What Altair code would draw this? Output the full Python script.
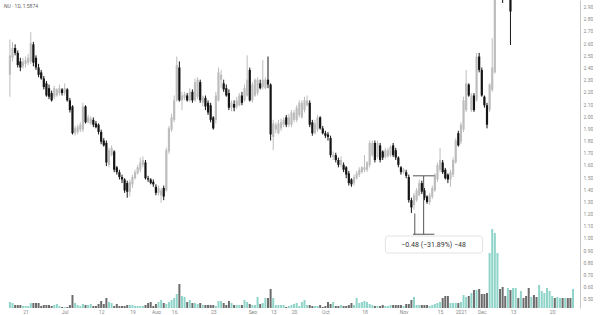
import altair as alt
import pandas as pd

# ---------------- data (daily candles) ----------------
opens = [
    2.34, 2.48, 2.56, 2.52, 2.45, 2.41, 2.43, 2.44, 2.45, 2.59,
    2.48, 2.40, 2.36, 2.31, 2.27, 2.23, 2.19, 2.16, 2.17, 2.19,
    2.22, 2.19, 2.22, 2.13, 2.08, 1.86, 1.87, 1.89, 1.89, 2.08,
    1.95, 1.94, 1.97, 1.94, 1.93, 1.87, 1.80, 1.78, 1.60, 1.68,
    1.71, 1.58, 1.54, 1.50, 1.48, 1.45, 1.38, 1.44, 1.49, 1.53,
    1.56, 1.60, 1.62, 1.49, 1.48, 1.46, 1.42, 1.37, 1.35, 1.41,
    1.39, 1.71, 1.89, 1.97, 2.13, 2.40, 2.13, 2.15, 2.17, 2.13,
    2.20, 2.13, 2.16, 2.28, 2.11, 2.15, 2.11, 2.09, 1.99,
    1.97, 2.13, 2.30, 2.27, 2.23, 2.19, 2.07, 2.10, 2.08, 2.09,
    2.17, 2.13, 2.17, 2.38, 2.13, 2.17, 2.19, 2.27, 2.24, 2.23,
    2.30, 2.26, 1.83, 1.89, 1.86, 1.90, 1.93, 1.99, 1.93, 1.93,
    1.97, 1.97, 2.01, 1.99, 2.05, 2.09, 2.11, 1.95, 1.86, 1.89,
    1.99, 1.90, 1.86, 1.85, 1.82, 1.665, 1.68, 1.64, 1.60, 1.60,
    1.58, 1.53, 1.48, 1.45, 1.49, 1.52, 1.54, 1.56, 1.56, 1.60,
    1.68, 1.78, 1.665, 1.76, 1.71, 1.665, 1.67, 1.68, 1.76, 1.72,
    1.66, 1.58, 1.54, 1.54, 1.50, 1.31, 1.27, 1.31, 1.35, 1.45,
    1.39, 1.34, 1.295, 1.34, 1.39, 1.48, 1.56, 1.62, 1.56, 1.52,
    1.48, 1.52, 1.62, 1.86, 1.79, 1.89, 2.05, 2.26, 2.05, 2.17,
    2.13, 2.49, 2.38, 2.16, 2.09, 2.05, 2.215, 2.36,
    3.20, 3.61, 3.40, 3.25, 3.15, 3.30, 3.05, 3.30, 3.45, 3.38,
    3.50, 3.42, 3.33, 3.18, 3.28, 3.20, 3.12, 3.30, 3.42, 3.50,
    3.66, 3.76, 3.84, 3.75, 3.82, 3.90, 3.83, 3.92, 3.85, 3.78,
]
closes = [
    2.50, 2.56, 2.52, 2.42, 2.40, 2.45, 2.46, 2.48, 2.60, 2.44,
    2.40, 2.34, 2.31, 2.24, 2.17, 2.16, 2.13, 2.23, 2.22, 2.23,
    2.19, 2.23, 2.13, 2.05, 1.86, 1.90, 1.91, 1.93, 2.08, 1.95,
    1.99, 1.98, 1.93, 1.91, 1.87, 1.79, 1.76, 1.62, 1.72, 1.74,
    1.56, 1.54, 1.50, 1.48, 1.39, 1.38, 1.46, 1.50, 1.54, 1.58,
    1.62, 1.64, 1.49, 1.48, 1.45, 1.44, 1.37, 1.41, 1.39, 1.34,
    1.72, 1.90, 1.99, 2.13, 2.42, 2.13, 2.17, 2.18, 2.13, 2.20,
    2.13, 2.28, 2.30, 2.13, 2.16, 2.08, 2.03, 1.97, 1.90,
    2.17, 2.36, 2.34, 2.22, 2.17, 2.07, 2.11, 2.07, 2.13, 2.17,
    2.11, 2.23, 2.30, 2.13, 2.26, 2.30, 2.30, 2.23, 2.30, 2.30,
    2.26, 1.85, 1.94, 1.93, 1.94, 1.95, 1.97, 1.93, 1.99, 2.03,
    2.03, 2.07, 2.11, 2.11, 2.13, 2.13, 1.93, 1.86, 1.94, 1.99,
    1.90, 1.86, 1.84, 1.83, 1.68, 1.68, 1.64, 1.60, 1.64, 1.56,
    1.52, 1.45, 1.44, 1.50, 1.53, 1.56, 1.58, 1.58, 1.62, 1.78,
    1.78, 1.64, 1.78, 1.64, 1.66, 1.72, 1.72, 1.75, 1.68, 1.66,
    1.60, 1.54, 1.56, 1.51, 1.31, 1.25, 1.35, 1.39, 1.45, 1.38,
    1.33, 1.295, 1.35, 1.41, 1.52, 1.60, 1.64, 1.54, 1.49, 1.48,
    1.54, 1.64, 1.80, 1.76, 1.93, 2.13, 2.27, 2.17, 2.17, 2.05,
    2.49, 2.38, 2.17, 2.09, 1.93, 2.26, 2.40, 3.20,
    3.61, 3.40, 3.25, 3.15, 3.30, 2.86, 3.30, 3.45, 3.38, 3.50,
    3.42, 3.33, 3.18, 3.28, 3.20, 3.12, 3.30, 3.42, 3.50, 3.66,
    3.76, 3.84, 3.75, 3.82, 3.90, 3.83, 3.92, 3.85, 3.78, 3.90,
]
highs = [
    2.63, 2.61, 2.59, 2.54, 2.48, 2.48, 2.49, 2.51, 2.69, 2.61,
    2.50, 2.43, 2.38, 2.33, 2.29, 2.26, 2.21, 2.25, 2.23, 2.26,
    2.23, 2.27, 2.23, 2.15, 2.09, 1.92, 1.93, 1.95, 2.11, 2.09,
    2.01, 2.00, 1.99, 1.96, 1.94, 1.89, 1.82, 1.80, 1.74, 1.76,
    1.72, 1.59, 1.56, 1.52, 1.49, 1.47, 1.48, 1.52, 1.56, 1.60,
    1.66, 1.67, 1.64, 1.51, 1.49, 1.48, 1.44, 1.43, 1.41, 1.43,
    1.74, 1.92, 2.02, 2.17, 2.49, 2.45, 2.20, 2.20, 2.19, 2.23,
    2.22, 2.31, 2.32, 2.30, 2.17, 2.17, 2.13, 2.11, 2.00,
    2.20, 2.40, 2.38, 2.30, 2.26, 2.22, 2.13, 2.13, 2.16, 2.19,
    2.20, 2.26, 2.50, 2.40, 2.28, 2.31, 2.32, 2.30, 2.46, 2.32,
    2.49, 2.27, 1.97, 1.95, 1.97, 1.98, 1.99, 2.01, 2.02, 2.05,
    2.05, 2.09, 2.13, 2.13, 2.16, 2.17, 2.13, 1.97, 1.97, 2.01,
    2.00, 1.92, 1.88, 1.87, 1.84, 1.71, 1.70, 1.66, 1.67, 1.62,
    1.59, 1.55, 1.49, 1.52, 1.55, 1.58, 1.59, 1.68, 1.63, 1.80,
    1.80, 1.80, 1.80, 1.78, 1.72, 1.74, 1.74, 1.76, 1.78, 1.74,
    1.67, 1.59, 1.575, 1.56, 1.52, 1.33, 1.37, 1.41, 1.48, 1.47,
    1.41, 1.35, 1.37, 1.43, 1.53, 1.62, 1.74, 1.64, 1.575, 1.53,
    1.56, 1.66, 1.82, 1.88, 1.95, 2.16, 2.38, 2.27, 2.19, 2.19,
    2.52, 2.52, 2.40, 2.17, 2.11, 2.27, 2.64, 3.28,
    3.69, 3.66, 3.48, 3.33, 3.38, 3.35, 3.36, 3.52, 3.50, 3.56,
    3.54, 3.46, 3.38, 3.33, 3.32, 3.24, 3.36, 3.47, 3.55, 3.72,
    3.82, 3.90, 3.88, 3.87, 3.95, 3.94, 3.97, 3.96, 3.89, 3.96,
]
lows = [
    2.16, 2.45, 2.50, 2.40, 2.37, 2.39, 2.40, 2.42, 2.43, 2.41,
    2.38, 2.32, 2.30, 2.22, 2.16, 2.14, 2.12, 2.14, 2.16, 2.17,
    2.17, 2.17, 2.12, 2.03, 1.85, 1.84, 1.85, 1.87, 1.87, 1.94,
    1.94, 1.93, 1.91, 1.90, 1.85, 1.77, 1.75, 1.59, 1.58, 1.67,
    1.54, 1.52, 1.48, 1.45, 1.37, 1.33, 1.34, 1.41, 1.48, 1.52,
    1.54, 1.58, 1.48, 1.46, 1.44, 1.42, 1.35, 1.35, 1.29, 1.31,
    1.38, 1.69, 1.87, 1.95, 2.12, 2.12, 2.05, 2.13, 2.12, 2.12,
    2.11, 2.12, 2.14, 2.11, 2.08, 2.05, 2.01, 1.95, 1.89,
    1.94, 2.12, 2.23, 2.20, 2.16, 2.05, 2.04, 2.04, 2.06, 2.08,
    2.09, 2.12, 2.16, 2.12, 2.11, 2.16, 2.17, 2.22, 2.22, 2.22,
    2.23, 1.80, 1.72, 1.86, 1.85, 1.88, 1.91, 1.91, 1.91, 1.91,
    1.95, 1.95, 1.99, 1.98, 2.03, 2.08, 1.91, 1.84, 1.85, 1.87,
    1.89, 1.85, 1.82, 1.80, 1.66, 1.64, 1.62, 1.58, 1.58, 1.54,
    1.49, 1.43, 1.42, 1.43, 1.48, 1.50, 1.53, 1.54, 1.54, 1.58,
    1.665, 1.62, 1.65, 1.62, 1.64, 1.65, 1.66, 1.665, 1.665, 1.64,
    1.58, 1.52, 1.525, 1.49, 1.29, 1.205, 1.23, 1.295, 1.34, 1.36,
    1.31, 1.28, 1.27, 1.32, 1.38, 1.46, 1.54, 1.525, 1.48, 1.45,
    1.42, 1.50, 1.61, 1.75, 1.77, 1.87, 2.035, 2.16, 2.035, 2.035,
    2.12, 2.36, 2.16, 2.07, 1.90, 2.035, 2.20, 2.35,
    3.16, 3.30, 2.93, 3.05, 3.08, 2.585, 2.99, 3.25, 3.32, 3.34,
    3.37, 3.28, 3.10, 3.14, 3.15, 3.06, 3.08, 3.26, 3.38, 3.46,
    3.60, 3.70, 3.70, 3.71, 3.78, 3.78, 3.80, 3.80, 3.72, 3.74,
]
volumes = [
    6, 5, 3, 3, 3, 2, 2, 2, 5, 5, 5, 5, 2, 3, 3, 3, 2, 3, 4, 2,
    1, 1, 1, 3, 13, 5, 3, 2, 4, 3, 3, 4, 2, 2, 4, 7, 4, 10, 6, 5,
    2, 4, 2, 2, 2, 3, 3, 3, 2, 2, 2, 2, 3, 5, 6, 2, 4, 6, 8, 5,
    4, 6, 8, 10, 14, 24, 12, 11, 6, 8, 5, 5, 4, 5, 3, 3, 3, 3, 3,
    2, 7, 7, 5, 3, 7, 5, 3, 3, 3, 3, 8, 6, 4, 3, 3, 11, 4, 5, 10,
    10, 19, 10, 3, 3, 3, 3, 1, 2, 3, 4, 5, 2, 6, 8, 3, 3, 2, 2, 2,
    3, 1, 2, 6, 4, 6, 2, 2, 3, 2, 2, 3, 5, 3, 10, 5, 6, 7, 6, 4,
    3, 2, 2, 2, 3, 2, 2, 3, 3, 3,
    3, 3, 2, 4, 4, 8, 11, 3, 3, 3, 3, 3, 2, 3, 4, 5, 6, 10, 12, 12,
    5, 5, 5, 5, 6, 13, 11, 12, 15, 18, 18, 19, 14, 14, 15, 55, 79, 75,
    55, 19, 21, 12, 20, 18, 20, 20, 10, 17, 10, 12, 20, 11, 13, 11,
    23, 17, 15, 20, 17, 12, 10, 11, 10, 10, 10, 10, 10, 19,
]

price_ticks = [0.5, 0.6, 0.7, 0.8, 0.9, 1.0, 1.1, 1.2, 1.3, 1.4, 1.5, 1.6, 1.7,
               1.8, 1.9, 2.0, 2.1, 2.2, 2.3, 2.4, 2.5, 2.6, 2.7, 2.8, 2.9]
time_tick_idx = [6, 21, 35, 47, 56, 63, 78, 93, 101, 109, 121, 136, 151, 165, 173, 181, 193, 208]
time_tick_txt = ["21", "Jul", "12", "19", "Aug", "16", "23", "Sep", "13", "20",
                 "Oct", "18", "Nov", "15", "2021", "Dec", "13", "20"]

legend_text = "NU · 1D, 1.5874"
ruler_top, ruler_bottom = 1.51, 1.03
ruler_text = "\u22120.48 (\u221231.89%) \u221248"

# ---------------- frame ----------------
df = pd.DataFrame({"i": list(range(len(opens))), "open": opens, "high": highs,
                   "low": lows, "close": closes, "volume": volumes})
df["dir"] = ["up" if c >= o else "down" for o, c in zip(opens, closes)]

label_expr = "''"
for v, t in reversed(list(zip(time_tick_idx, time_tick_txt))):
    label_expr = f"datum.value == {v} ? '{t}' : ({label_expr})"

x_scale = alt.Scale(domain=[-1.885, 216.755], nice=False, zero=False)
x_axis = alt.Axis(values=time_tick_idx, labelExpr=label_expr, labelFontSize=5,
                  labelColor="#8a8a8a", domain=False, ticks=False, grid=False,
                  labelPadding=1, title=None, labelFont="Roboto")
X = alt.X("i:Q", scale=x_scale, axis=x_axis)

p_scale = alt.Scale(domain=[0.4239, 2.9547], nice=False, zero=False)
p_axis = alt.Axis(orient="right", values=price_ticks, format=".2f", labelFontSize=5,
                  labelColor="#8a8a8a", domainColor="#c8c8c8", ticks=False, grid=False,
                  labelPadding=3, title=None, labelFont="Roboto")

candle_color = alt.Color("dir:N", scale=alt.Scale(domain=["up", "down"],
                         range=["#bdbdbd", "#151515"]), legend=None)
vol_color = alt.Color("dir:N", scale=alt.Scale(domain=["up", "down"],
                      range=["#8fd4c9", "#6c6c6c"]), legend=None)

vol = alt.Chart(df).mark_bar(size=2, clip=True).encode(
    x=X,
    y=alt.Y("volume:Q", scale=alt.Scale(domain=[0, 308], nice=False), axis=None),
    color=vol_color,
)

wick = alt.Chart(df).mark_rule(strokeWidth=1, clip=True).encode(
    x=X, y=alt.Y("low:Q", scale=p_scale, axis=p_axis), y2="high:Q", color=candle_color)
body = alt.Chart(df).mark_bar(size=2.2, clip=True).encode(
    x=X, y=alt.Y("open:Q", scale=p_scale, axis=p_axis), y2="close:Q", color=candle_color)

# price-range ruler annotation
ruler_h = pd.DataFrame({"i": [154.6, 154.6], "i2": [162.8, 162.8], "p": [ruler_top, ruler_bottom]})
ruler_v = pd.DataFrame({"i": [158.7, 155.3], "p": [ruler_top, 1.20], "p2": [ruler_bottom, ruler_bottom]})
rh = alt.Chart(ruler_h).mark_rule(color="#555555", strokeWidth=1).encode(
    x=X, x2="i2:Q", y=alt.Y("p:Q", scale=p_scale, axis=p_axis))
rv = alt.Chart(ruler_v).mark_rule(color="#555555", strokeWidth=1).encode(
    x=X, y=alt.Y("p:Q", scale=p_scale, axis=p_axis), y2="p2:Q")

box_df = pd.DataFrame({"i": [144.0], "i2": [181.3], "p": [1.0155], "p2": [0.8758],
                       "tx": [162.5], "ty": [0.9416], "label": [ruler_text]})
box = alt.Chart(box_df).mark_rect(fill="white", stroke="#e2e2e2", strokeWidth=1,
                                  cornerRadius=3).encode(
    x=X, x2="i2:Q", y=alt.Y("p:Q", scale=p_scale, axis=p_axis), y2="p2:Q")
box_txt = alt.Chart(box_df).mark_text(fontSize=7, color="#333333", font="Roboto").encode(
    x=alt.X("tx:Q", scale=x_scale, axis=x_axis),
    y=alt.Y("ty:Q", scale=p_scale, axis=p_axis), text="label:N")

legend = alt.Chart(pd.DataFrame({"t": [legend_text]})).mark_text(
    fontSize=5, color="#666666", align="left", baseline="middle", font="Roboto").encode(
    x=alt.value(4), y=alt.value(6), text="t:N")

price = alt.layer(wick, body, rh, rv, box, box_txt, legend)

chart = alt.layer(vol, price).resolve_scale(y="independent", color="independent").properties(
    width=580, height=308, padding=0, background="white"
).configure_view(stroke=None)

chart.save("out.html", embed_options={"renderer": "svg", "actions": False})
